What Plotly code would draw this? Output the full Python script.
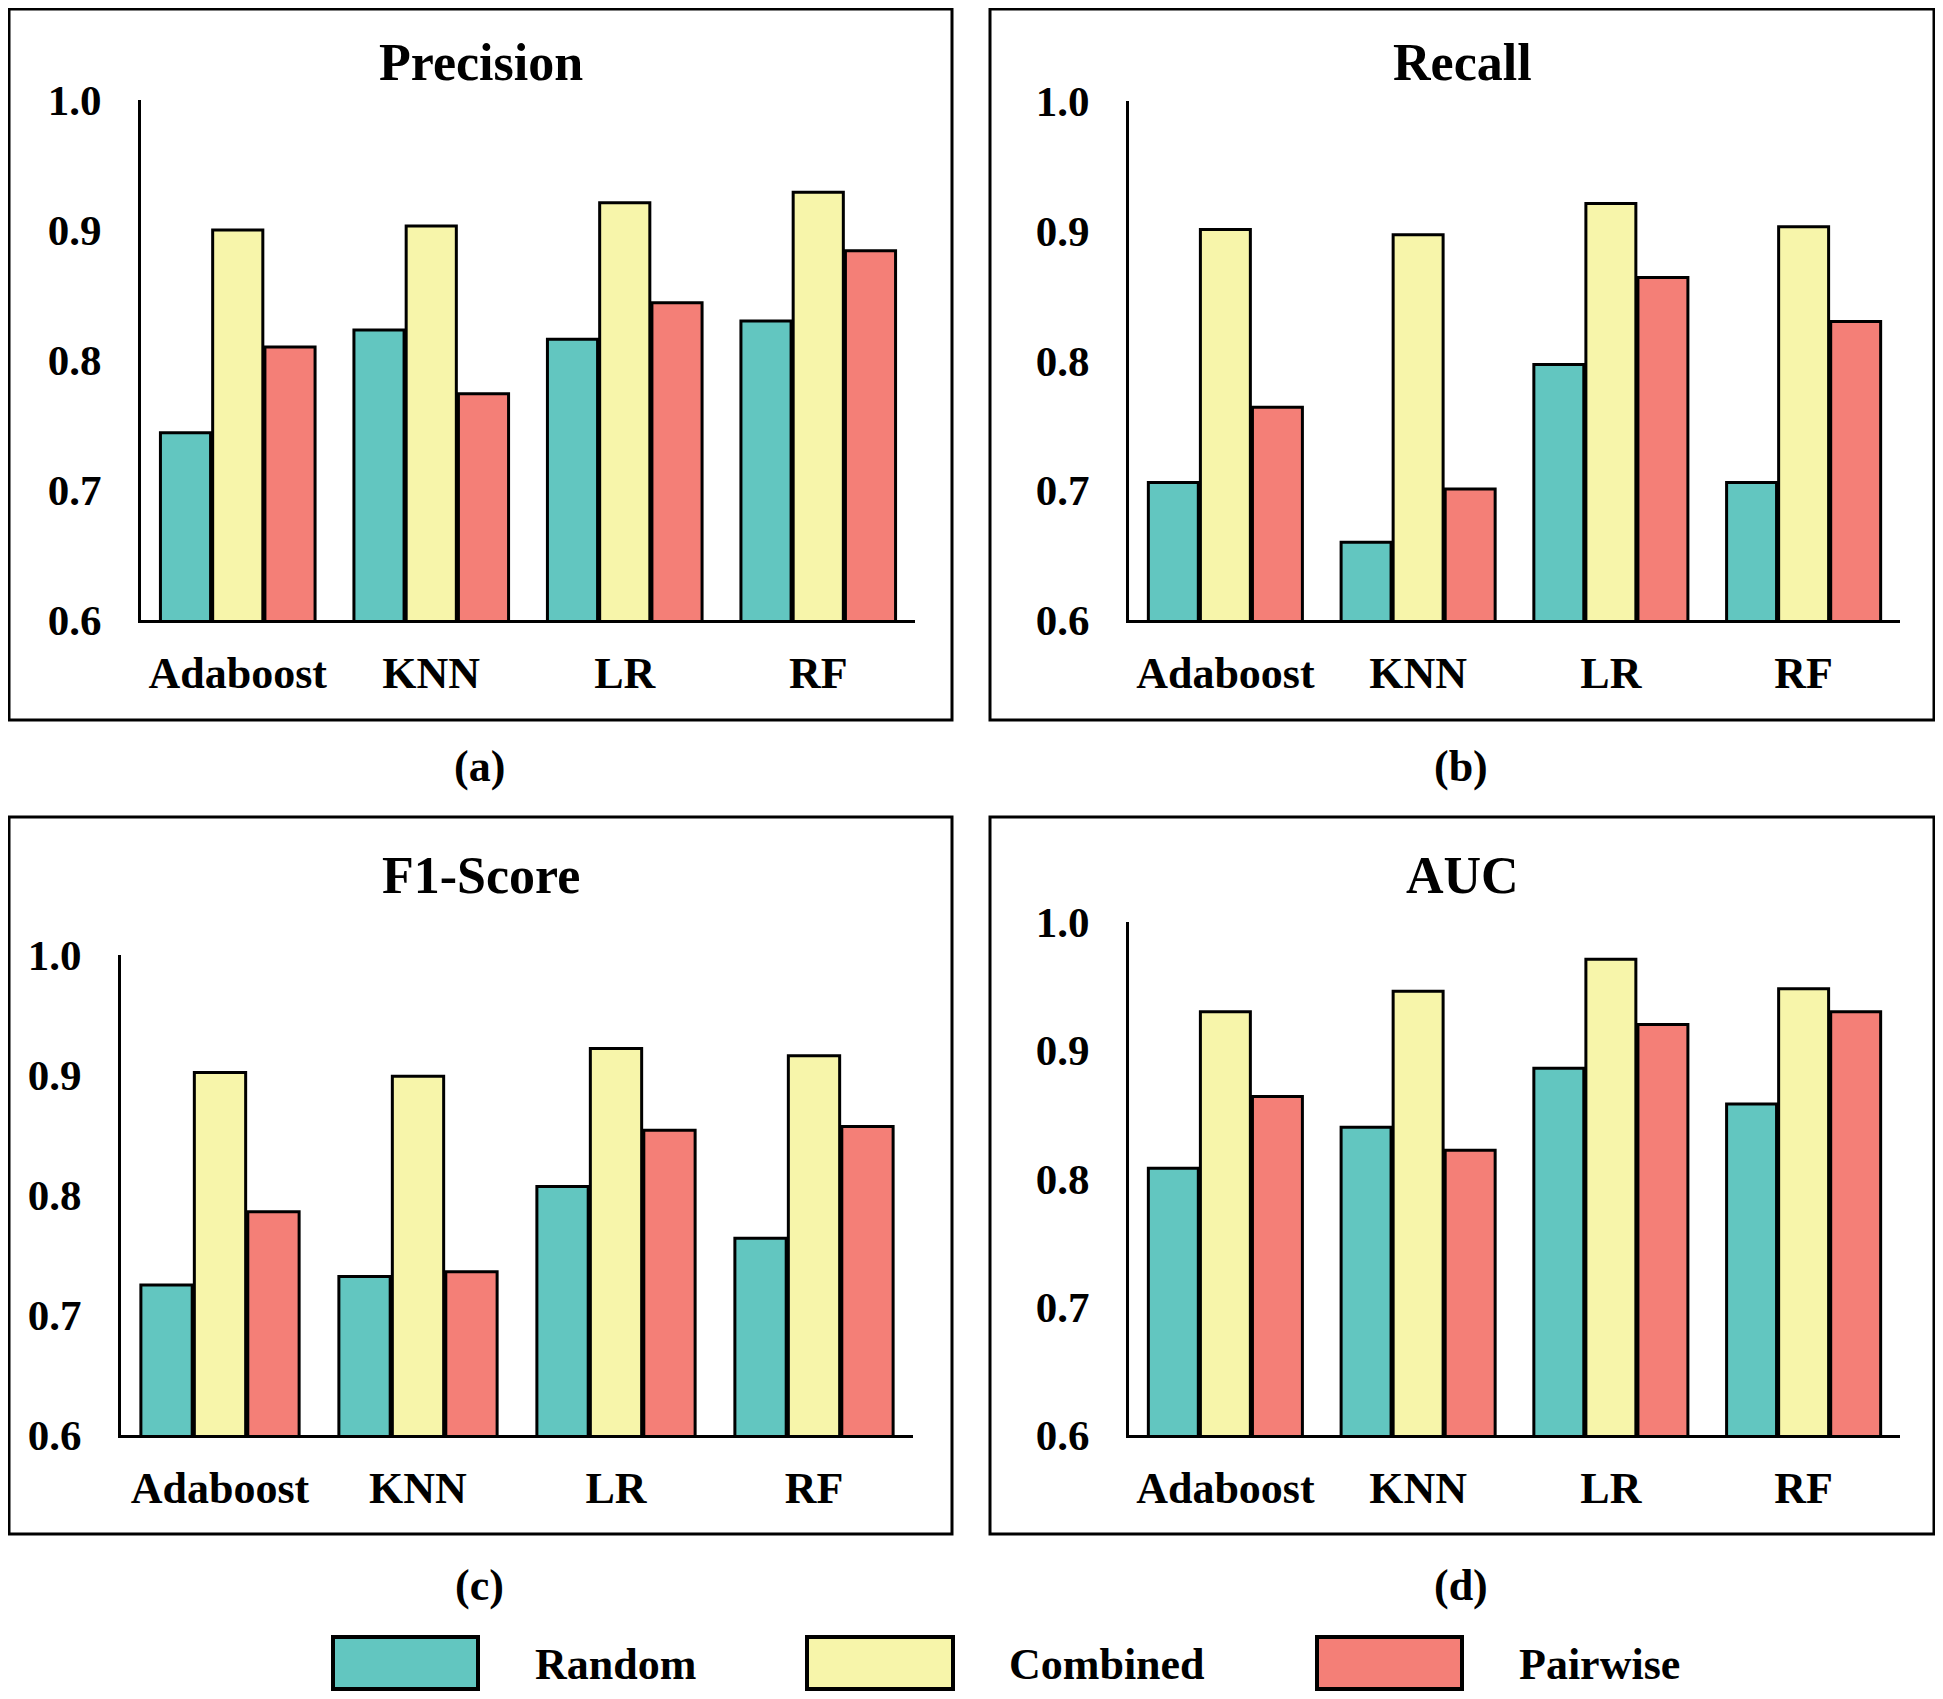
import plotly.graph_objects as go

SCREEN_W, SCREEN_H = 1943, 1699
OX, OY = 8, 8  # body margin of the html page
W, H = SCREEN_W - 2 * OX, SCREEN_H - 2 * OY

categories = ["Adaboost", "KNN", "LR", "RF"]
series_names = ["Random", "Combined", "Pairwise"]
series_colors = ["#62C6C0", "#F7F5AA", "#F47F77"]
y_ticks = [0.6, 0.7, 0.8, 0.9, 1.0]
y_tick_labels = ["0.6", "0.7", "0.8", "0.9", "1.0"]

precision_random = [0.744, 0.823, 0.816, 0.830]
precision_combined = [0.900, 0.903, 0.921, 0.929]
precision_pairwise = [0.810, 0.774, 0.844, 0.884]

recall_random = [0.706, 0.660, 0.797, 0.706]
recall_combined = [0.901, 0.897, 0.921, 0.903]
recall_pairwise = [0.764, 0.701, 0.864, 0.830]

f1_random = [0.725, 0.732, 0.807, 0.764]
f1_combined = [0.902, 0.899, 0.922, 0.916]
f1_pairwise = [0.786, 0.736, 0.854, 0.857]

auc_random = [0.808, 0.840, 0.886, 0.858]
auc_combined = [0.930, 0.946, 0.971, 0.948]
auc_pairwise = [0.864, 0.822, 0.920, 0.930]

panel_titles = ["Precision", "Recall", "F1-Score", "AUC"]
panel_labels = ["(a)", "(b)", "(c)", "(d)"]
panel_data = [
    [precision_random, precision_combined, precision_pairwise],
    [recall_random, recall_combined, recall_pairwise],
    [f1_random, f1_combined, f1_pairwise],
    [auc_random, auc_combined, auc_pairwise],
]

# layout in screen pixels: plot area (x0, x1, ytop, ybottom), box (x0, x1, y0, y1)
plot_px = [(141, 915, 100, 620), (1129, 1900, 101, 620),
           (121, 913, 955, 1435), (1129, 1900, 922, 1435)]
box_px = [(9, 952, 9, 720), (990, 1934, 9, 720),
          (9, 952, 817, 1534), (990, 1934, 817, 1534)]
title_y_px = [62, 62, 876, 876]
label_y_px = [767, 767, 1585, 1585]

FONT = "Liberation Serif"

def px_x(v):
    return (v - OX) / W

def px_y(v):
    return 1 - (v - OY) / H

fig = go.Figure()
layout_axes = {}
shapes = []
annotations = []

for i in range(4):
    ax = "" if i == 0 else str(i + 1)
    for s in range(3):
        fig.add_trace(go.Bar(
            x=categories, y=panel_data[i][s], name=series_names[s],
            marker=dict(color=series_colors[s], line=dict(color="black", width=3)),
            xaxis="x" + ax, yaxis="y" + ax, showlegend=False,
        ))
    x0, x1, yt, yb = plot_px[i]
    layout_axes["xaxis" + ax] = dict(
        domain=[px_x(x0), px_x(x1)], anchor="y" + ax,
        showline=True, linecolor="black", linewidth=3,
        showgrid=False, zeroline=False, ticks="", automargin=False,
        tickfont=dict(family=FONT, size=44, color="black", weight="bold"),
        ticklabelstandoff=12,
        range=[-0.5, 3.5],
    )
    layout_axes["yaxis" + ax] = dict(
        domain=[px_y(yb), px_y(yt)], anchor="x" + ax,
        range=[0.6, 1.0], tickvals=y_ticks, ticktext=y_tick_labels,
        showline=True, linecolor="black", linewidth=3,
        showgrid=False, zeroline=False, ticks="", automargin=False,
        tickfont=dict(family=FONT, size=43, color="black", weight="bold"),
        ticklabelstandoff=28,
    )
    bx0, bx1, by0, by1 = box_px[i]
    shapes.append(dict(type="rect", xref="paper", yref="paper",
                       x0=px_x(bx0), x1=px_x(bx1), y0=px_y(by1), y1=px_y(by0),
                       line=dict(color="black", width=3), fillcolor="rgba(0,0,0,0)"))
    cx = (bx0 + bx1) / 2
    annotations.append(dict(text=panel_titles[i], xref="paper", yref="paper",
                            x=px_x(cx), y=px_y(title_y_px[i]), showarrow=False,
                            xanchor="center", yanchor="middle",
                            font=dict(family=FONT, size=52, color="black", weight="bold")))
    annotations.append(dict(text=panel_labels[i], xref="paper", yref="paper",
                            x=px_x(cx - 1), y=px_y(label_y_px[i]), showarrow=False,
                            xanchor="center", yanchor="middle",
                            font=dict(family=FONT, size=44, color="black", weight="bold")))

# legend drawn manually
legend_swatch_px = [(333, 478), (807, 953), (1317, 1462)]
legend_text_x_px = [533, 1007, 1517]
for s in range(3):
    sx0, sx1 = legend_swatch_px[s]
    shapes.append(dict(type="rect", xref="paper", yref="paper",
                       x0=px_x(sx0), x1=px_x(sx1), y0=px_y(1689), y1=px_y(1637),
                       line=dict(color="black", width=4), fillcolor=series_colors[s]))
    annotations.append(dict(text=series_names[s], xref="paper", yref="paper",
                            x=px_x(legend_text_x_px[s]), y=px_y(1664), showarrow=False,
                            xanchor="left", yanchor="middle",
                            font=dict(family=FONT, size=44, color="black", weight="bold")))

fig.update_layout(
    width=W, height=H, autosize=False,
    margin=dict(l=0, r=0, t=0, b=0, pad=0),
    paper_bgcolor="white", plot_bgcolor="white",
    barmode="group", bargap=0.19, bargroupgap=0.04,
    shapes=shapes, annotations=annotations,
    showlegend=False,
    **layout_axes,
)

fig.write_html("out.html")
